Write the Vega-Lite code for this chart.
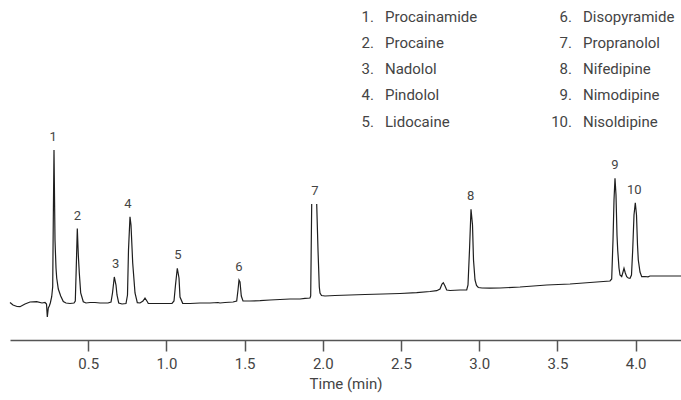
{
  "$schema": "https://vega.github.io/schema/vega-lite/v6.json",
  "width": 671,
  "height": 340,
  "autosize": {"type": "none"},
  "padding": {"left": 10, "top": 0, "right": 0, "bottom": 60},
  "background": "white",
  "config": {
    "view": {"stroke": null},
    "text": {"font": "Roboto"}
  },
  "datasets": {
    "trace": [
      {"t": 0.000, "s": 37.5}, {"t": 0.0192, "s": 35}, {"t": 0.0448, "s": 33.5}, {"t": 0.0639, "s": 33.3},
      {"t": 0.0959, "s": 36}, {"t": 0.1279, "s": 38}, {"t": 0.1707, "s": 38.3}, {"t": 0.2046, "s": 37},
      {"t": 0.2238, "s": 37.5}, {"t": 0.2334, "s": 36}, {"t": 0.2385, "s": 23}, {"t": 0.2449, "s": 32},
      {"t": 0.2513, "s": 34}, {"t": 0.2577, "s": 37}, {"t": 0.2666, "s": 43.3}, {"t": 0.2730, "s": 53.3},
      {"t": 0.2768, "s": 120}, {"t": 0.2813, "s": 190}, {"t": 0.2877, "s": 100}, {"t": 0.2941, "s": 72},
      {"t": 0.2986, "s": 62}, {"t": 0.3088, "s": 51}, {"t": 0.3241, "s": 44}, {"t": 0.3408, "s": 38.5},
      {"t": 0.3580, "s": 37}, {"t": 0.3836, "s": 36.5}, {"t": 0.4092, "s": 37}, {"t": 0.4175, "s": 39},
      {"t": 0.4232, "s": 70}, {"t": 0.4303, "s": 111.5}, {"t": 0.4367, "s": 85}, {"t": 0.4431, "s": 67},
      {"t": 0.4520, "s": 47}, {"t": 0.4686, "s": 38.3}, {"t": 0.4859, "s": 37}, {"t": 0.5115, "s": 37.5},
      {"t": 0.5434, "s": 37.5}, {"t": 0.5754, "s": 37}, {"t": 0.6266, "s": 37}, {"t": 0.6458, "s": 38},
      {"t": 0.6553, "s": 47}, {"t": 0.6668, "s": 63}, {"t": 0.6777, "s": 55}, {"t": 0.6841, "s": 45},
      {"t": 0.6950, "s": 37}, {"t": 0.7161, "s": 36}, {"t": 0.7416, "s": 36.5}, {"t": 0.7512, "s": 45},
      {"t": 0.7576, "s": 90}, {"t": 0.7672, "s": 123.3}, {"t": 0.7736, "s": 115}, {"t": 0.7845, "s": 77},
      {"t": 0.7992, "s": 47}, {"t": 0.8139, "s": 37.3}, {"t": 0.8312, "s": 37}, {"t": 0.8503, "s": 39},
      {"t": 0.8631, "s": 42}, {"t": 0.8791, "s": 38}, {"t": 0.8842, "s": 36.5}, {"t": 0.9270, "s": 36.5},
      {"t": 0.9910, "s": 36.5}, {"t": 1.0357, "s": 36.5}, {"t": 1.0485, "s": 39}, {"t": 1.0581, "s": 55},
      {"t": 1.0696, "s": 71.7}, {"t": 1.0805, "s": 62}, {"t": 1.0869, "s": 43}, {"t": 1.1041, "s": 36.7},
      {"t": 1.1508, "s": 36.5}, {"t": 1.2148, "s": 37}, {"t": 1.2787, "s": 37}, {"t": 1.3298, "s": 37.5},
      {"t": 1.3426, "s": 37}, {"t": 1.3746, "s": 37.5}, {"t": 1.4258, "s": 38}, {"t": 1.4494, "s": 39},
      {"t": 1.4577, "s": 50}, {"t": 1.4641, "s": 60}, {"t": 1.4705, "s": 58}, {"t": 1.4788, "s": 44},
      {"t": 1.4897, "s": 39}, {"t": 1.5344, "s": 39}, {"t": 1.5984, "s": 39.3}, {"t": 1.6623, "s": 40},
      {"t": 1.7262, "s": 40.5}, {"t": 1.7902, "s": 41}, {"t": 1.8541, "s": 41}, {"t": 1.8861, "s": 41.7},
      {"t": 1.9180, "s": 42}, {"t": 1.9225, "s": 44}, {"t": 1.9289, "s": 136}, {"t": 1.9450, "s": null},
      {"t": 1.9609, "s": 136}, {"t": 1.9692, "s": 90}, {"t": 1.9775, "s": 53}, {"t": 1.9820, "s": 47},
      {"t": 1.9916, "s": 44.5}, {"t": 2.0139, "s": 44}, {"t": 2.0779, "s": 44.5}, {"t": 2.1738, "s": 45},
      {"t": 2.2697, "s": 45.5}, {"t": 2.3848, "s": 46}, {"t": 2.4935, "s": 46.5}, {"t": 2.6002, "s": 47.3},
      {"t": 2.6853, "s": 48.5}, {"t": 2.7281, "s": 49.3}, {"t": 2.7492, "s": 51}, {"t": 2.7620, "s": 56},
      {"t": 2.7703, "s": 57.3}, {"t": 2.7812, "s": 54}, {"t": 2.7920, "s": 50}, {"t": 2.8131, "s": 49.5},
      {"t": 2.8771, "s": 50}, {"t": 2.9199, "s": 50}, {"t": 2.9282, "s": 55}, {"t": 2.9378, "s": 90},
      {"t": 2.9474, "s": 130.7}, {"t": 2.9570, "s": 115}, {"t": 2.9634, "s": 80}, {"t": 2.9730, "s": 60},
      {"t": 2.9826, "s": 54.5}, {"t": 2.9941, "s": 52.5}, {"t": 3.0177, "s": 52}, {"t": 3.0689, "s": 51.8},
      {"t": 3.1328, "s": 52}, {"t": 3.2607, "s": 53}, {"t": 3.4314, "s": 55}, {"t": 3.5804, "s": 56},
      {"t": 3.7082, "s": 57.5}, {"t": 3.8361, "s": 59}, {"t": 3.8469, "s": 61}, {"t": 3.8553, "s": 100},
      {"t": 3.8617, "s": 140}, {"t": 3.8680, "s": 161.7}, {"t": 3.8744, "s": 145}, {"t": 3.8808, "s": 105},
      {"t": 3.8853, "s": 90}, {"t": 3.8936, "s": 72}, {"t": 3.9000, "s": 65}, {"t": 3.9109, "s": 63.3},
      {"t": 3.9192, "s": 68}, {"t": 3.9256, "s": 71.7}, {"t": 3.9339, "s": 67}, {"t": 3.9428, "s": 63.3},
      {"t": 3.9531, "s": 62}, {"t": 3.9639, "s": 61.7}, {"t": 3.9735, "s": 65}, {"t": 3.9812, "s": 90},
      {"t": 3.9895, "s": 125}, {"t": 3.9978, "s": 137.3}, {"t": 4.0055, "s": 125}, {"t": 4.0119, "s": 95},
      {"t": 4.0170, "s": 80}, {"t": 4.0279, "s": 68}, {"t": 4.0388, "s": 63.3}, {"t": 4.0598, "s": 63.5},
      {"t": 4.0790, "s": 63.2}, {"t": 4.0918, "s": 64}, {"t": 4.1557, "s": 64}, {"t": 4.2197, "s": 64},
      {"t": 4.2900, "s": 64}
    ],
    "peaks": [
      {"label": "1", "t": 0.276, "s": 190},
      {"label": "2", "t": 0.4303, "s": 111.5},
      {"label": "3", "t": 0.6758, "s": 63},
      {"label": "4", "t": 0.7544, "s": 123.3},
      {"label": "5", "t": 1.0741, "s": 71.7},
      {"label": "6", "t": 1.4641, "s": 60},
      {"label": "7", "t": 1.950, "s": 136},
      {"label": "8", "t": 2.9455, "s": 130.7},
      {"label": "9", "t": 3.868, "s": 161.7},
      {"label": "10", "t": 3.9914, "s": 137.3}
    ],
    "compounds": [
      {"num": "1.", "name": "Procainamide", "col": "A", "row": 1},
      {"num": "2.", "name": "Procaine", "col": "A", "row": 2},
      {"num": "3.", "name": "Nadolol", "col": "A", "row": 3},
      {"num": "4.", "name": "Pindolol", "col": "A", "row": 4},
      {"num": "5.", "name": "Lidocaine", "col": "A", "row": 5},
      {"num": "6.", "name": "Disopyramide", "col": "B", "row": 1},
      {"num": "7.", "name": "Propranolol", "col": "B", "row": 2},
      {"num": "8.", "name": "Nifedipine", "col": "B", "row": 3},
      {"num": "9.", "name": "Nimodipine", "col": "B", "row": 4},
      {"num": "10.", "name": "Nisoldipine", "col": "B", "row": 5}
    ]
  },
  "layer": [
    {
      "layer": [
        {
          "data": {"name": "trace"},
          "mark": {"type": "line", "color": "#1e1e1e", "strokeWidth": 1.2, "invalid": "break-paths-filter-domains"},
          "encoding": {
            "x": {
              "field": "t", "type": "quantitative",
              "scale": {"domain": [0, 4.29], "nice": false, "zero": false},
              "axis": {
                "title": "Time (min)",
                "values": [0.5, 1.0, 1.5, 2.0, 2.5, 3.0, 3.5, 4.0],
                "format": ".1f",
                "grid": false,
                "domainColor": "#555555",
                "domainWidth": 1.5,
                "tickColor": "#555555",
                "tickWidth": 1.5,
                "tickSize": 11,
                "labelPadding": 5,
                "labelFont": "Roboto",
                "labelFontSize": 15,
                "labelColor": "#444444",
                "titleFont": "Roboto",
                "titleFontSize": 15,
                "titleFontWeight": "normal",
                "titleColor": "#444444",
                "titlePadding": 5
              }
            },
            "y": {
              "field": "s", "type": "quantitative",
              "scale": {"domain": [0, 340], "nice": false, "zero": false},
              "axis": null
            }
          }
        },
        {
          "data": {"name": "peaks"},
          "mark": {"type": "text", "fontSize": 13, "color": "#444444", "baseline": "middle", "align": "center", "dy": -13},
          "encoding": {
            "x": {"field": "t", "type": "quantitative"},
            "y": {"field": "s", "type": "quantitative"},
            "text": {"field": "label"}
          }
        }
      ]
    },
    {
      "data": {"name": "compounds"},
      "encoding": {
        "x": {
          "field": "col", "type": "nominal",
          "scale": {"type": "point", "domain": ["A", "B"], "range": [375, 573], "padding": 0},
          "axis": null
        },
        "y": {
          "field": "row", "type": "ordinal",
          "scale": {"type": "point", "domain": [1, 2, 3, 4, 5], "range": [21.5, 126.5], "padding": 0},
          "axis": null
        }
      },
      "layer": [
        {
          "mark": {"type": "text", "fontSize": 15, "color": "#444444", "align": "right", "baseline": "alphabetic", "dx": -11},
          "encoding": {"text": {"field": "num"}}
        },
        {
          "mark": {"type": "text", "fontSize": 15, "color": "#444444", "align": "left", "baseline": "alphabetic"},
          "encoding": {"text": {"field": "name"}}
        }
      ]
    }
  ],
  "resolve": {"scale": {"x": "independent", "y": "independent"}}
}
